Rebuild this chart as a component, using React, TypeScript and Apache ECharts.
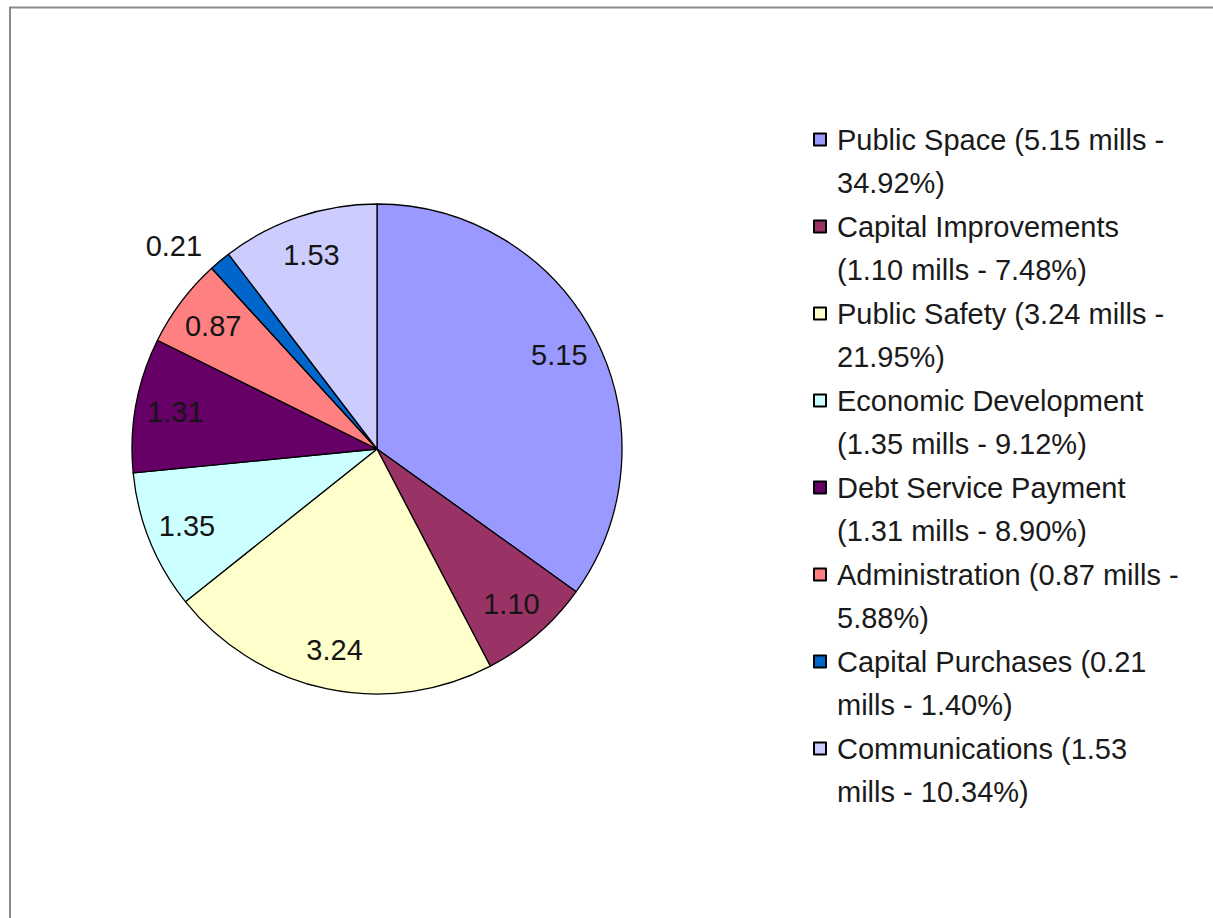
import React, { useEffect, useRef } from "react";
import * as echarts from "echarts";

const categories = [
  "Public Space",
  "Capital Improvements",
  "Public Safety",
  "Economic Development",
  "Debt Service Payment",
  "Administration",
  "Capital Purchases",
  "Communications",
];
const mills = [5.15, 1.1, 3.24, 1.35, 1.31, 0.87, 0.21, 1.53];
const percents = ["34.92%", "7.48%", "21.95%", "9.12%", "8.90%", "5.88%", "1.40%", "10.34%"];
// Legend labels, wrapped as in the reference
const legendLabels = [
  "Public Space (5.15 mills -\n34.92%)",
  "Capital Improvements\n(1.10 mills - 7.48%)",
  "Public Safety (3.24 mills -\n21.95%)",
  "Economic Development\n(1.35 mills - 9.12%)",
  "Debt Service Payment\n(1.31 mills - 8.90%)",
  "Administration (0.87 mills -\n5.88%)",
  "Capital Purchases (0.21\nmills - 1.40%)",
  "Communications (1.53\nmills - 10.34%)",
];
const colors = ["#9999FF", "#993366", "#FFFFCC", "#CCFFFF", "#660066", "#FF8080", "#0066CC", "#CCCCFF"];
const outsideLabelIndex = [6];

const FONT = "'Liberation Sans', Arial, Helvetica, sans-serif";

export default function App() {
  const ref = useRef<HTMLDivElement>(null);
  useEffect(() => {
    if (!ref.current) return;
    const chart = echarts.init(ref.current, undefined, { renderer: "svg" });
    const labelMap: Record<string, string> = {};
    categories.forEach((c, i) => (labelMap[c] = legendLabels[i]));
    void percents;

    const mainData = categories.map((name, i) => ({
      name,
      value: mills[i],
      itemStyle: { color: colors[i] },
    }));
    const labelData = categories.map((name, i) => {
      const outside = outsideLabelIndex.includes(i);
      return {
        name,
        value: mills[i],
        label: outside ? { position: "outside" } : undefined,
        labelLine: outside ? { show: false, length: 20, length2: 0 } : undefined,
      };
    });

    chart.setOption({
      animation: false,
      backgroundColor: "#ffffff",
      textStyle: { fontFamily: FONT },
      graphic: [
        {
          type: "rect",
          silent: true,
          shape: { x: 10, y: 7.5, width: 1300, height: 1100 },
          style: { fill: "none", stroke: "#8a8a8a", lineWidth: 2 },
        },
      ],
      legend: {
        orient: "vertical",
        left: 813,
        top: 75,
        height: 800,
        padding: 0,
        itemGap: -42,
        itemWidth: 12,
        itemHeight: 12,
        icon: "rect",
        selectedMode: false,
        data: categories,
        formatter: (name: string) => "\n" + labelMap[name],
        textStyle: {
          fontFamily: FONT,
          fontSize: 29,
          lineHeight: 43,
          color: "#1a1a1a",
          padding: [0, 0, 0, 6],
        },
      },
      series: [
        {
          type: "pie",
          name: "main",
          center: [377, 449],
          radius: [0, 245],
          startAngle: 90,
          clockwise: true,
          avoidLabelOverlap: false,
          itemStyle: { borderColor: "#000000", borderWidth: 1.3 },
          label: { show: false },
          labelLine: { show: false },
          emphasis: { disabled: true },
          data: mainData,
        },
        {
          type: "pie",
          name: "labels",
          center: [377, 449],
          radius: [159, 245],
          startAngle: 90,
          clockwise: true,
          silent: true,
          avoidLabelOverlap: false,
          legendHoverLink: false,
          itemStyle: { color: "rgba(0,0,0,0)", borderWidth: 0 },
          label: {
            show: true,
            position: "inside",
            formatter: (p: any) => Number(p.value).toFixed(2),
            fontFamily: FONT,
            fontSize: 29,
            color: "#151515",
          },
          labelLine: { show: false },
          emphasis: { disabled: true },
          data: labelData,
        },
      ],
    });
    return () => chart.dispose();
  }, []);
  return (
    <div
      ref={ref}
      style={{ position: "absolute", left: 0, top: 0, width: 1213, height: 918 }}
    />
  );
}
